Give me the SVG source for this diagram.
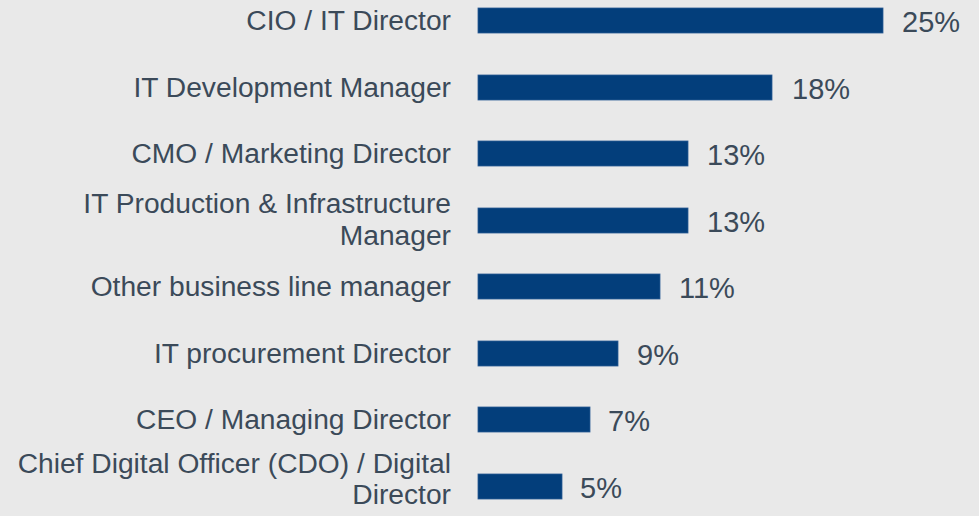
<svg xmlns="http://www.w3.org/2000/svg" width="979" height="516" viewBox="0 0 979 516">
<style>
.lbl{font-family:"Liberation Sans",Arial,sans-serif;font-size:28.2px;fill:#3b4a59;text-anchor:end}
.pct{font-family:"Liberation Sans",Arial,sans-serif;font-size:29px;fill:#3b4a59}
.bar{fill:#033e7b;stroke:#2a5a93;stroke-width:0.8}
</style>
<rect width="979" height="516" fill="#e9e9e9"/>
<g id="row1">
<text class="lbl" x="451" y="30">CIO / IT Director</text>
<rect class="bar" x="478" y="8" width="405" height="25"/>
<text class="pct" x="902" y="32">25%</text>
</g>
<g id="row2">
<text class="lbl" x="451" y="97">IT Development Manager</text>
<rect class="bar" x="478" y="75" width="294" height="25"/>
<text class="pct" x="792" y="99">18%</text>
</g>
<g id="row3">
<text class="lbl" x="451" y="163">CMO / Marketing Director</text>
<rect class="bar" x="478" y="141" width="210" height="25"/>
<text class="pct" x="707" y="165">13%</text>
</g>
<g id="row4">
<text class="lbl" x="451" y="213">IT Production &amp; Infrastructure</text>
<text class="lbl" x="451" y="245">Manager</text>
<rect class="bar" x="478" y="208" width="210" height="25"/>
<text class="pct" x="707" y="232">13%</text>
</g>
<g id="row5">
<text class="lbl" x="451" y="296">Other business line manager</text>
<rect class="bar" x="478" y="274" width="182" height="25"/>
<text class="pct" x="679" y="298">11%</text>
</g>
<g id="row6">
<text class="lbl" x="451" y="363">IT procurement Director</text>
<rect class="bar" x="478" y="341" width="140" height="25"/>
<text class="pct" x="637" y="365">9%</text>
</g>
<g id="row7">
<text class="lbl" x="451" y="429">CEO / Managing Director</text>
<rect class="bar" x="478" y="407" width="112" height="25"/>
<text class="pct" x="608" y="431">7%</text>
</g>
<g id="row8">
<text class="lbl" x="451" y="473">Chief Digital Officer (CDO) / Digital</text>
<text class="lbl" x="451" y="504">Director</text>
<rect class="bar" x="478" y="474" width="84" height="25"/>
<text class="pct" x="580" y="498">5%</text>
</g>
<g id="connectors"/>
</svg>
